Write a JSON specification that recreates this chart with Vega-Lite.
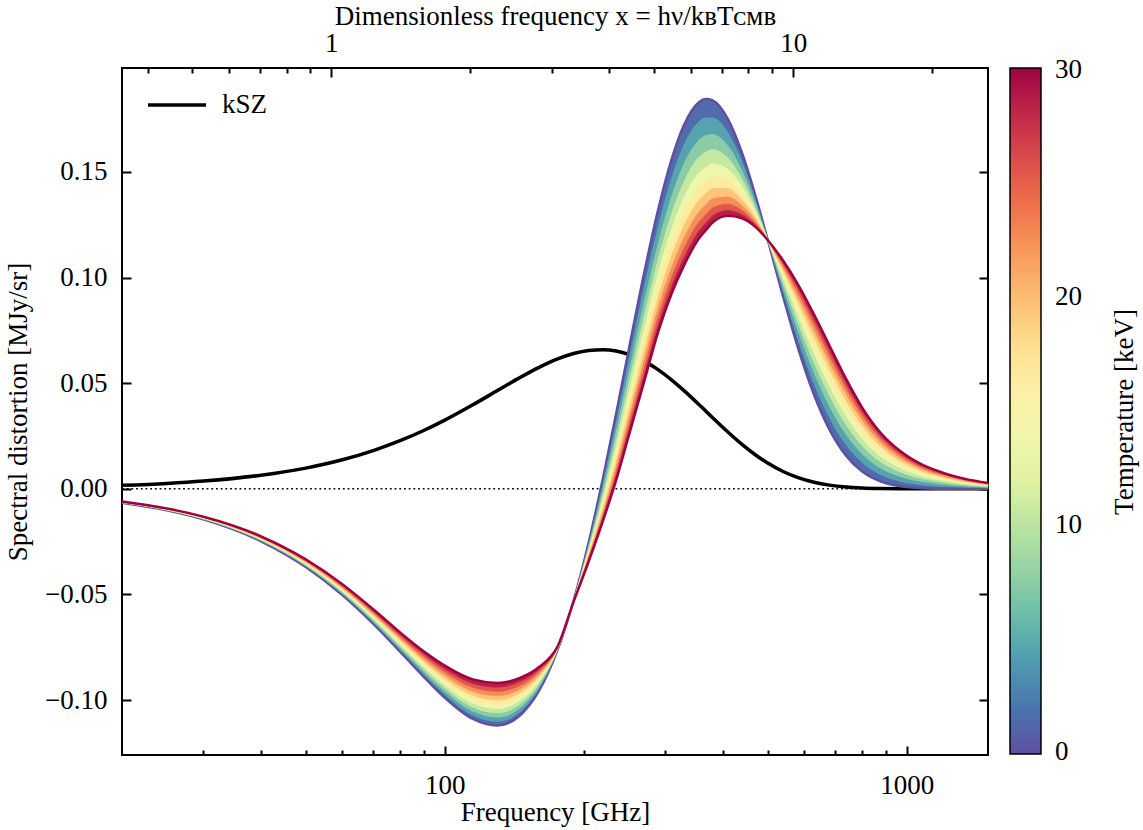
{
  "$schema": "https://vega.github.io/schema/vega-lite/v6.json",
  "width": 866,
  "height": 687,
  "autosize": {"type": "none"},
  "padding": {"left": 122, "top": 68, "right": 155, "bottom": 75},
  "config": {
    "font": "Liberation Serif",
    "view": {"stroke": "black", "strokeWidth": 2},
    "axis": {"labelFont": "Liberation Serif", "titleFont": "Liberation Serif", "labelFontSize": 27, "titleFontSize": 27, "titleFontWeight": "normal", "labelColor": "black", "titleColor": "black", "tickColor": "black", "tickWidth": 2, "domain": false, "grid": false},
    "legend": {"labelFont": "Liberation Serif", "titleFont": "Liberation Serif", "labelFontSize": 27, "titleFontSize": 27, "titleFontWeight": "normal", "labelColor": "black", "titleColor": "black"}
  },
  "datasets": {
    "zero": [{"xd": 0.35218, "z": 0}, {"xd": 26.413, "z": 0}],
    "curves": [
      {"f":20,"c0":-0.00661,"c1":-0.00655,"c2":-0.00649,"c3":-0.00643,"c4":-0.00637,"c5":-0.00632,"c6":-0.00626,"c7":-0.0062,"c8":-0.00614,"c9":-0.00608,"c10":-0.00602,"k":0.00166},
      {"f":25,"c0":-0.01021,"c1":-0.01012,"c2":-0.01003,"c3":-0.00994,"c4":-0.00984,"c5":-0.00975,"c6":-0.00966,"c7":-0.00956,"c8":-0.00947,"c9":-0.00938,"c10":-0.00929,"k":0.00257},
      {"f":30,"c0":-0.0145,"c1":-0.01437,"c2":-0.01423,"c3":-0.0141,"c4":-0.01397,"c5":-0.01383,"c6":-0.0137,"c7":-0.01357,"c8":-0.01343,"c9":-0.0133,"c10":-0.01317,"k":0.00368},
      {"f":40,"c0":-0.02486,"c1":-0.02462,"c2":-0.02438,"c3":-0.02414,"c4":-0.0239,"c5":-0.02366,"c6":-0.02342,"c7":-0.02319,"c8":-0.02295,"c9":-0.02271,"c10":-0.02247,"k":0.00643},
      {"f":50,"c0":-0.03705,"c1":-0.03668,"c2":-0.03631,"c3":-0.03594,"c4":-0.03557,"c5":-0.0352,"c6":-0.03483,"c7":-0.03446,"c8":-0.03409,"c9":-0.03372,"c10":-0.03335,"k":0.00981},
      {"f":60,"c0":-0.05036,"c1":-0.04983,"c2":-0.04931,"c3":-0.04879,"c4":-0.04826,"c5":-0.04774,"c6":-0.04722,"c7":-0.04669,"c8":-0.04617,"c9":-0.04564,"c10":-0.04512,"k":0.01374},
      {"f":70,"c0":-0.06397,"c1":-0.06328,"c2":-0.06258,"c3":-0.06188,"c4":-0.06119,"c5":-0.06049,"c6":-0.05979,"c7":-0.0591,"c8":-0.0584,"c9":-0.0577,"c10":-0.057,"k":0.0181},
      {"f":80,"c0":-0.07711,"c1":-0.07619,"c2":-0.07527,"c3":-0.07435,"c4":-0.07344,"c5":-0.07252,"c6":-0.0716,"c7":-0.07068,"c8":-0.06977,"c9":-0.06885,"c10":-0.06793,"k":0.02277},
      {"f":90,"c0":-0.08899,"c1":-0.08778,"c2":-0.08657,"c3":-0.08536,"c4":-0.08415,"c5":-0.08294,"c6":-0.08173,"c7":-0.08052,"c8":-0.07931,"c9":-0.0781,"c10":-0.07689,"k":0.02762},
      {"f":100,"c0":-0.09893,"c1":-0.0974,"c2":-0.09588,"c3":-0.09436,"c4":-0.09283,"c5":-0.09131,"c6":-0.08979,"c7":-0.08826,"c8":-0.08674,"c9":-0.08522,"c10":-0.08369,"k":0.03253},
      {"f":115,"c0":-0.10898,"c1":-0.10711,"c2":-0.10523,"c3":-0.10336,"c4":-0.10148,"c5":-0.09961,"c6":-0.09773,"c7":-0.09586,"c8":-0.09398,"c9":-0.09211,"c10":-0.09024,"k":0.03977},
      {"f":130,"c0":-0.11205,"c1":-0.11004,"c2":-0.10802,"c3":-0.106,"c4":-0.10399,"c5":-0.10197,"c6":-0.09995,"c7":-0.09794,"c8":-0.09592,"c9":-0.0939,"c10":-0.09188,"k":0.04652},
      {"f":145,"c0":-0.10754,"c1":-0.10574,"c2":-0.10395,"c3":-0.10215,"c4":-0.10036,"c5":-0.09856,"c6":-0.09676,"c7":-0.09497,"c8":-0.09317,"c9":-0.09138,"c10":-0.08958,"k":0.05251},
      {"f":160,"c0":-0.09559,"c1":-0.09446,"c2":-0.09333,"c3":-0.0922,"c4":-0.09107,"c5":-0.08995,"c6":-0.08882,"c7":-0.08769,"c8":-0.08656,"c9":-0.08543,"c10":-0.08431,"k":0.0575},
      {"f":175,"c0":-0.07697,"c1":-0.07677,"c2":-0.07658,"c3":-0.07639,"c4":-0.0762,"c5":-0.076,"c6":-0.07581,"c7":-0.07562,"c8":-0.07543,"c9":-0.07524,"c10":-0.07504,"k":0.06136},
      {"f":190,"c0":-0.05293,"c1":-0.05299,"c2":-0.05304,"c3":-0.0531,"c4":-0.05316,"c5":-0.05322,"c6":-0.05327,"c7":-0.05333,"c8":-0.05339,"c9":-0.05344,"c10":-0.0535,"k":0.06404},
      {"f":205,"c0":-0.02503,"c1":-0.02616,"c2":-0.02725,"c3":-0.02829,"c4":-0.02929,"c5":-0.03024,"c6":-0.03115,"c7":-0.032,"c8":-0.03282,"c9":-0.03358,"c10":-0.0343,"k":0.06552},
      {"f":220,"c0":0.00509,"c1":0.00215,"c2":-0.00059,"c3":-0.00313,"c4":-0.00546,"c5":-0.00759,"c6":-0.00952,"c7":-0.01124,"c8":-0.01277,"c9":-0.01408,"c10":-0.0152,"k":0.06588},
      {"f":235,"c0":0.0358,"c1":0.0312,"c2":0.02692,"c3":0.02296,"c4":0.01932,"c5":0.01599,"c6":0.01298,"c7":0.01028,"c8":0.0079,"c9":0.00584,"c10":0.0041,"k":0.06522},
      {"f":250,"c0":0.06564,"c1":0.05972,"c2":0.0542,"c3":0.0491,"c4":0.0444,"c5":0.04012,"c6":0.03624,"c7":0.03276,"c8":0.0297,"c9":0.02705,"c10":0.0248,"k":0.06366},
      {"f":270,"c0":0.10202,"c1":0.09455,"c2":0.0876,"c3":0.08116,"c4":0.07523,"c5":0.06982,"c6":0.06493,"c7":0.06055,"c8":0.05668,"c9":0.05333,"c10":0.0505,"k":0.06045},
      {"f":290,"c0":0.13264,"c1":0.12421,"c2":0.11636,"c3":0.10909,"c4":0.10241,"c5":0.0963,"c6":0.09078,"c7":0.08584,"c8":0.08148,"c9":0.0777,"c10":0.0745,"k":0.05628},
      {"f":310,"c0":0.15629,"c1":0.14704,"c2":0.13843,"c3":0.13045,"c4":0.12312,"c5":0.11642,"c6":0.11036,"c7":0.10494,"c8":0.10015,"c9":0.09601,"c10":0.0925,"k":0.05149},
      {"f":330,"c0":0.17259,"c1":0.16293,"c2":0.15394,"c3":0.14562,"c4":0.13796,"c5":0.13097,"c6":0.12464,"c7":0.11898,"c8":0.11399,"c9":0.10966,"c10":0.106,"k":0.04637},
      {"f":355,"c0":0.18306,"c1":0.1737,"c2":0.16499,"c3":0.15692,"c4":0.14949,"c5":0.14271,"c6":0.13658,"c7":0.13109,"c8":0.12625,"c9":0.12205,"c10":0.1185,"k":0.0399},
      {"f":368,"c0":0.18459,"c1":0.17559,"c2":0.1672,"c3":0.15944,"c4":0.1523,"c5":0.14578,"c6":0.13988,"c7":0.13461,"c8":0.12995,"c9":0.12591,"c10":0.1225,"k":0.03662},
      {"f":380,"c0":0.18393,"c1":0.17553,"c2":0.16771,"c3":0.16047,"c4":0.15381,"c5":0.14772,"c6":0.14222,"c7":0.1373,"c8":0.13295,"c9":0.12919,"c10":0.126,"k":0.03369},
      {"f":410,"c0":0.17513,"c1":0.16847,"c2":0.16227,"c3":0.15653,"c4":0.15125,"c5":0.14643,"c6":0.1421,"c7":0.13816,"c8":0.13471,"c9":0.13173,"c10":0.1292,"k":0.02689},
      {"f":440,"c0":0.15911,"c1":0.1546,"c2":0.1504,"c3":0.14651,"c4":0.14293,"c5":0.13967,"c6":0.13671,"c7":0.13407,"c8":0.13173,"c9":0.12971,"c10":0.128,"k":0.02102},
      {"f":470,"c0":0.13919,"c1":0.13699,"c2":0.13494,"c3":0.13304,"c4":0.13129,"c5":0.1297,"c6":0.12825,"c7":0.12696,"c8":0.12582,"c9":0.12484,"c10":0.124,"k":0.01613},
      {"f":500,"c0":0.11803,"c1":0.118,"c2":0.11797,"c3":0.11794,"c4":0.11791,"c5":0.11789,"c6":0.11786,"c7":0.11784,"c8":0.11783,"c9":0.11781,"c10":0.1178,"k":0.01218},
      {"f":540,"c0":0.09099,"c1":0.09347,"c2":0.09578,"c3":0.09792,"c4":0.09989,"c5":0.10168,"c6":0.10331,"c7":0.10476,"c8":0.10605,"c9":0.10716,"c10":0.1081,"k":0.00819},
      {"f":580,"c0":0.06752,"c1":0.07184,"c2":0.07586,"c3":0.07958,"c4":0.08301,"c5":0.08613,"c6":0.08896,"c7":0.09149,"c8":0.09373,"c9":0.09566,"c10":0.0973,"k":0.00539},
      {"f":630,"c0":0.04449,"c1":0.05002,"c2":0.05516,"c3":0.05993,"c4":0.06431,"c5":0.06831,"c6":0.07193,"c7":0.07517,"c8":0.07803,"c9":0.0805,"c10":0.0826,"k":0.00311},
      {"f":680,"c0":0.02814,"c1":0.03392,"c2":0.0393,"c3":0.04428,"c4":0.04887,"c5":0.05305,"c6":0.05684,"c7":0.06023,"c8":0.06322,"c9":0.06581,"c10":0.068,"k":0.00175},
      {"f":740,"c0":0.01554,"c1":0.02081,"c2":0.02572,"c3":0.03027,"c4":0.03445,"c5":0.03827,"c6":0.04172,"c7":0.04481,"c8":0.04754,"c9":0.0499,"c10":0.0519,"k":0.00085},
      {"f":800,"c0":0.00824,"c1":0.01266,"c2":0.01677,"c3":0.02058,"c4":0.02408,"c5":0.02728,"c6":0.03017,"c7":0.03276,"c8":0.03505,"c9":0.03703,"c10":0.0387,"k":0.00041},
      {"f":880,"c0":0.00336,"c1":0.00669,"c2":0.00978,"c3":0.01265,"c4":0.01529,"c5":0.0177,"c6":0.01988,"c7":0.02183,"c8":0.02355,"c9":0.02504,"c10":0.0263,"k":0.00015},
      {"f":970,"c0":0.00116,"c1":0.00357,"c2":0.00582,"c3":0.0079,"c4":0.00981,"c5":0.01156,"c6":0.01314,"c7":0.01456,"c8":0.0158,"c9":0.01689,"c10":0.0178,"k":0.00004},
      {"f":1080,"c0":0.00029,"c1":0.00192,"c2":0.00343,"c3":0.00483,"c4":0.00612,"c5":0.0073,"c6":0.00836,"c7":0.00931,"c8":0.01016,"c9":0.01088,"c10":0.0115,"k":0.00001},
      {"f":1200,"c0":0.00006,"c1":0.00115,"c2":0.00217,"c3":0.00311,"c4":0.00398,"c5":0.00477,"c6":0.00549,"c7":0.00613,"c8":0.0067,"c9":0.00719,"c10":0.0076,"k":0},
      {"f":1340,"c0":0.00001,"c1":0.00069,"c2":0.00132,"c3":0.00191,"c4":0.00245,"c5":0.00294,"c6":0.00339,"c7":0.00378,"c8":0.00414,"c9":0.00444,"c10":0.0047,"k":0},
      {"f":1500,"c0":0,"c1":0.00041,"c2":0.00078,"c3":0.00113,"c4":0.00146,"c5":0.00175,"c6":0.00202,"c7":0.00225,"c8":0.00246,"c9":0.00265,"c10":0.0028,"k":0}
    ]
  },
  "layer": [
    {
      "data": {"name": "zero"},
      "mark": {"type": "line", "color": "black", "strokeWidth": 1.6, "strokeDash": [1.8, 2.9]},
      "encoding": {
        "x": {"field": "xd", "type": "quantitative", "scale": {"type": "log", "domain": [0.35218, 26.413], "nice": false},
          "axis": {"orient": "top", "values": [0.4,0.5,0.6,0.7,0.8,0.9,1,2,3,4,5,6,7,8,9,10,20],
            "tickSize": {"condition": {"test": "datum.value == 1 || datum.value == 10", "value": -9}, "value": -5},
            "labelExpr": "datum.value == 1 ? '1' : datum.value == 10 ? '10' : ''",
            "labelPadding": 20, "labelFlush": false, "labelOverlap": false,
            "title": "Dimensionless frequency x = hν/kʙTᴄᴍʙ", "titlePadding": -5}},
        "y": {"field": "z", "type": "quantitative", "scale": {"domain": [-0.126, 0.1992], "nice": false, "zero": false}, "axis": null}
      }
    },
    {
      "data": {"name": "curves"},
      "mark": {"type": "line", "strokeWidth": 3.5, "interpolate": "monotone"},
      "encoding": {
        "x": {"field": "f", "type": "quantitative", "scale": {"type": "log", "domain": [20, 1500], "nice": false}, "axis": null},
        "y": {"field": "k", "type": "quantitative", "scale": {"domain": [-0.126, 0.1992], "nice": false, "zero": false},
          "axis": {"orient": "right", "values": [-0.1,-0.05,0,0.05,0.1,0.15], "tickSize": -9, "labels": false,
            "title": "Temperature [keV]", "titleAngle": 270, "titleBaseline": "top", "titlePadding": 122}},
        "color": {"datum": "kSZ", "type": "nominal", "scale": {"range": ["black"]},
          "legend": {"title": null, "orient": "none", "legendX": 24, "legendY": 6, "padding": 0, "symbolType": "stroke", "symbolSize": 3364, "symbolStrokeWidth": 3.5, "labelOffset": 14}}
      }
    },
    {
      "data": {"name": "curves"},
      "layer": [
        {"mark": {"type": "area", "interpolate": "monotone", "strokeWidth": 0.8},
         "encoding": {
          "x": {"field": "f", "type": "quantitative", "scale": {"type": "log", "domain": [20, 1500], "nice": false},
            "axis": {"values": [30,40,50,60,70,80,90,100,200,300,400,500,600,700,800,900,1000],
              "tickSize": {"condition": {"test": "datum.value == 100 || datum.value == 1000", "value": -9}, "value": -5},
              "labelExpr": "datum.value == 100 ? '100' : datum.value == 1000 ? '1000' : ''",
              "labelPadding": 26, "labelFlush": false, "labelOverlap": false,
              "title": "Frequency [GHz]", "titlePadding": -3}},
          "y": {"field": "c0", "type": "quantitative", "scale": {"domain": [-0.126, 0.1992], "nice": false, "zero": false},
            "axis": {"orient": "left", "values": [-0.1,-0.05,0,0.05,0.1,0.15], "format": ".2f", "tickSize": -9, "labelPadding": 24, "title": "Spectral distortion [MJy/sr]", "titlePadding": 12}},
          "y2": {"field": "c1"},
          "color": {"datum": 1.5, "type": "quantitative", "scale": {"type": "linear", "domain": [0, 30], "scheme": "spectral", "reverse": true},
            "legend": {"type": "gradient", "title": null, "orient": "none", "legendX": 888, "legendY": 0, "padding": 0, "direction": "vertical", "gradientLength": 686, "gradientThickness": 31, "values": [0.1,10,20,29.9], "labelExpr": "'' + round(datum.value)", "labelOffset": 14, "labelBaseline": "middle", "gradientStrokeColor": "black", "gradientStrokeWidth": 1.5}},
          "stroke": {"datum": 1.5, "type": "quantitative", "scale": {"type": "linear", "domain": [0, 30], "scheme": "spectral", "reverse": true}, "legend": null}}},
        {"mark": {"type": "line", "strokeWidth": 2.4, "interpolate": "monotone"},
         "encoding": {"x": {"field": "f", "type": "quantitative"}, "y": {"field": "c0", "type": "quantitative"},
          "stroke": {"datum": 0, "type": "quantitative", "legend": null}}},
        {"mark": {"type": "area", "interpolate": "monotone", "strokeWidth": 0.8},
         "encoding": {"x": {"field": "f", "type": "quantitative"}, "y": {"field": "c1", "type": "quantitative"}, "y2": {"field": "c2"},
          "color": {"datum": 4.5, "type": "quantitative"}, "stroke": {"datum": 4.5, "type": "quantitative", "legend": null}}},
        {"mark": {"type": "area", "interpolate": "monotone", "strokeWidth": 0.8},
         "encoding": {"x": {"field": "f", "type": "quantitative"}, "y": {"field": "c2", "type": "quantitative"}, "y2": {"field": "c3"},
          "color": {"datum": 7.5, "type": "quantitative"}, "stroke": {"datum": 7.5, "type": "quantitative", "legend": null}}},
        {"mark": {"type": "area", "interpolate": "monotone", "strokeWidth": 0.8},
         "encoding": {"x": {"field": "f", "type": "quantitative"}, "y": {"field": "c3", "type": "quantitative"}, "y2": {"field": "c4"},
          "color": {"datum": 10.5, "type": "quantitative"}, "stroke": {"datum": 10.5, "type": "quantitative", "legend": null}}},
        {"mark": {"type": "area", "interpolate": "monotone", "strokeWidth": 0.8},
         "encoding": {"x": {"field": "f", "type": "quantitative"}, "y": {"field": "c4", "type": "quantitative"}, "y2": {"field": "c5"},
          "color": {"datum": 13.5, "type": "quantitative"}, "stroke": {"datum": 13.5, "type": "quantitative", "legend": null}}},
        {"mark": {"type": "area", "interpolate": "monotone", "strokeWidth": 0.8},
         "encoding": {"x": {"field": "f", "type": "quantitative"}, "y": {"field": "c5", "type": "quantitative"}, "y2": {"field": "c6"},
          "color": {"datum": 16.5, "type": "quantitative"}, "stroke": {"datum": 16.5, "type": "quantitative", "legend": null}}},
        {"mark": {"type": "area", "interpolate": "monotone", "strokeWidth": 0.8},
         "encoding": {"x": {"field": "f", "type": "quantitative"}, "y": {"field": "c6", "type": "quantitative"}, "y2": {"field": "c7"},
          "color": {"datum": 19.5, "type": "quantitative"}, "stroke": {"datum": 19.5, "type": "quantitative", "legend": null}}},
        {"mark": {"type": "area", "interpolate": "monotone", "strokeWidth": 0.8},
         "encoding": {"x": {"field": "f", "type": "quantitative"}, "y": {"field": "c7", "type": "quantitative"}, "y2": {"field": "c8"},
          "color": {"datum": 22.5, "type": "quantitative"}, "stroke": {"datum": 22.5, "type": "quantitative", "legend": null}}},
        {"mark": {"type": "area", "interpolate": "monotone", "strokeWidth": 0.8},
         "encoding": {"x": {"field": "f", "type": "quantitative"}, "y": {"field": "c8", "type": "quantitative"}, "y2": {"field": "c9"},
          "color": {"datum": 25.5, "type": "quantitative"}, "stroke": {"datum": 25.5, "type": "quantitative", "legend": null}}},
        {"mark": {"type": "area", "interpolate": "monotone", "strokeWidth": 0.8},
         "encoding": {"x": {"field": "f", "type": "quantitative"}, "y": {"field": "c9", "type": "quantitative"}, "y2": {"field": "c10"},
          "color": {"datum": 28.5, "type": "quantitative"}, "stroke": {"datum": 28.5, "type": "quantitative", "legend": null}}},
        {"mark": {"type": "line", "strokeWidth": 2.4, "interpolate": "monotone"},
         "encoding": {"x": {"field": "f", "type": "quantitative"}, "y": {"field": "c10", "type": "quantitative"},
          "stroke": {"datum": 30, "type": "quantitative", "legend": null}}}
      ]
    }
  ],
  "resolve": {"scale": {"x": "independent", "color": "independent"}, "axis": {"y": "independent"}}
}
